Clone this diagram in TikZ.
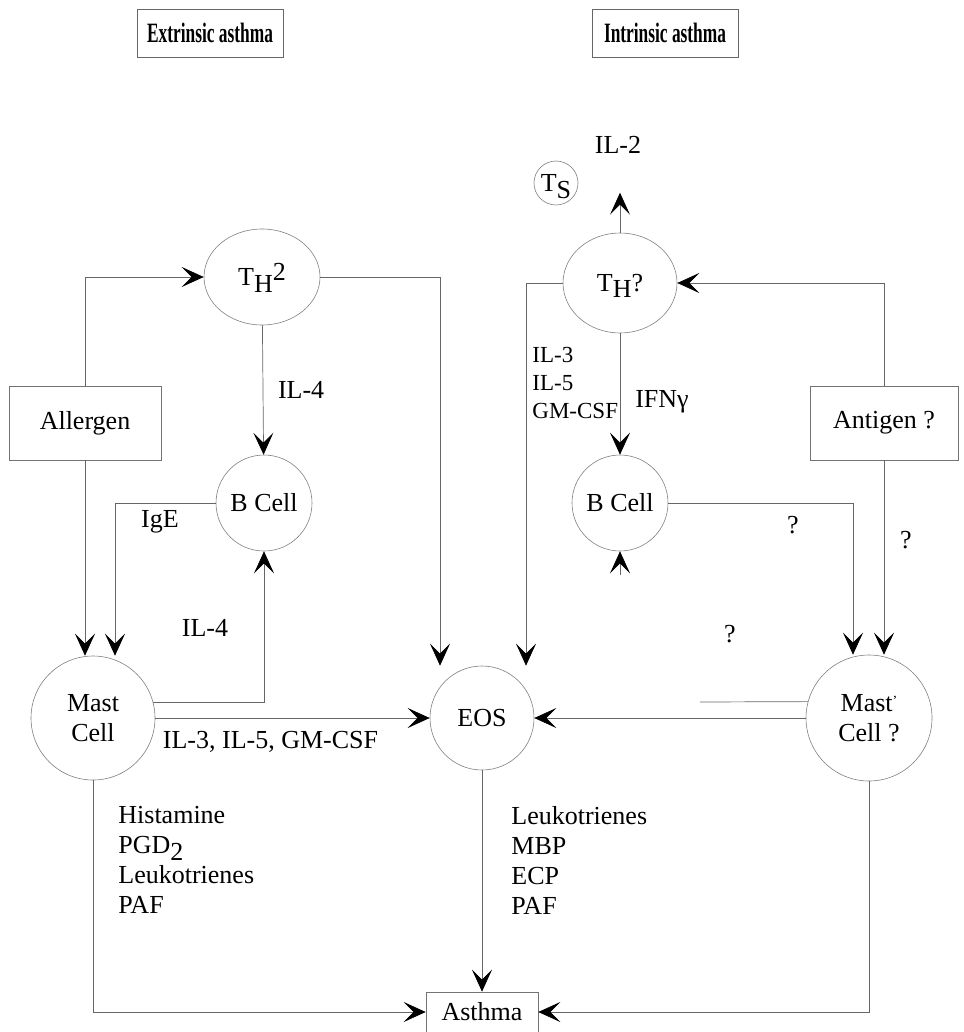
\documentclass[tikz,border=0pt]{standalone}
\usepackage{fontspec}
\setmainfont{Liberation Serif}
\usetikzlibrary{arrows.meta,shapes,positioning,calc}

\newcommand{\lo}[1]{\smash{\raisebox{-.55ex}{#1}}}
\newcommand{\hi}[1]{\smash{\raisebox{.45ex}{#1}}}

\begin{document}
\begin{tikzpicture}[x=0.5pt, y=-0.5pt,
    font=\fontsize{13}{15}\selectfont,
    cell/.style={circle, draw=black!50, line width=0.3pt, inner sep=0pt, align=center},
    oval/.style={ellipse, draw=black!50, line width=0.3pt, inner sep=0pt, align=center},
    box/.style={rectangle, draw=black!55, line width=0.3pt, align=center},
    title/.style={rectangle, draw=black!60, line width=0.4pt, minimum width=73pt, minimum height=24pt,
        font=\bfseries\fontsize{14}{16}\selectfont},
    link/.style={draw=black!60, line width=0.35pt},
    arr/.style={link, -{Stealth[length=11pt, width=10pt, inset=5pt, black]}},
    lbl/.style={inner sep=0pt, align=left}]
    \useasboundingbox (0,0) rectangle (963,1032);

    \node[title] (ext) at (210,33) {\scalebox{0.62}[1]{Extrinsic asthma}};
    \node[title] (int) at (665,33) {\scalebox{0.62}[1]{Intrinsic asthma}};

    \node[oval, minimum width=58pt, minimum height=48pt] (th2) at (262,277) {T\lo{H}\hi{2}};
    \node[oval, minimum width=57pt, minimum height=50pt] (thq) at (620,283) {T\lo{H}?};
    \node[cell, minimum size=22pt] (ts) at (556,183) {T\lo{S}};
    \node[lbl] (il2) at (618,145) {IL-2};

    \node[box, minimum width=76pt, minimum height=37pt] (allergen) at (85,423) {Allergen};
    \node[box, minimum width=74pt, minimum height=37pt] (antigen) at (884,423) {Antigen ?};

    \node[cell, minimum size=48pt] (bL) at (264,503) {B Cell};
    \node[cell, minimum size=48pt] (bR) at (620,503) {B Cell};

    \node[cell, minimum size=62pt] (mastL) at (93,718) {Mast\\Cell};
    \node[cell, minimum size=63pt] (mastR) at (869,718) {Mast\hi{\fontsize{7}{7}\selectfont'}\\Cell ?};
    \node[cell, minimum size=52pt] (eos) at (482,718) {EOS};

    \node[box, minimum width=56pt, minimum height=20pt] (asthma) at (482,1012) {Asthma};

    \draw[arr] (allergen.north) |- (th2.west);
    \draw[arr] (allergen.south) -- (allergen.south |- mastL.north);
    \draw[arr] (th2.east) -| ([xshift=-21pt]eos.north);
    \draw[arr] (th2) -- (bL) node[midway, right=4pt] {IL-4};
    \draw[arr] (bL.west) -| ([xshift=11pt]mastL.north);
    \draw[arr] (mastL.15) -| (bL.south);
    \draw[arr] (mastL) -- (eos) node[pos=0.42, below=3pt] {IL-3, IL-5, GM-CSF};

    \draw[arr] (antigen.north) |- (thq.east);
    \draw[arr] (antigen.south) -- (antigen.south |- mastR.north);
    \draw[arr] (thq.west) -| ([xshift=22pt]eos.north);
    \draw[arr] (thq.north) -- ([yshift=20pt]thq.north);
    \draw[arr] (thq) -- (bR);
    \draw[arr] (bR.east) -| ([xshift=-8pt]mastR.north);
    \draw[arr] ([yshift=-12pt]bR.south) -- (bR.south);
    \coordinate (qend) at (700,702);
    \draw[link] (mastR.165) -- (qend);
    \draw[arr] (mastR) -- (eos);

    \draw[arr] (eos) -- (asthma);
    \draw[arr] (mastL.south) |- (asthma.west);
    \draw[arr] (mastR.south) |- (asthma.east);

    \node[lbl] (ige) at (160,522) {IgE};
    \node[lbl] (il4b) at (205,628) {IL-4};
    \node[lbl, anchor=west, font=\fontsize{11.5}{14}\selectfont] (eosin) at (532,383) {IL-3\\IL-5\\GM-CSF};
    \node[lbl] (ifn) at (662,402) {IFNγ};
    \node[lbl] (q1) at (793,525) {?};
    \node[lbl] (q2) at (906,540) {?};
    \node[lbl] (q3) at (730,634) {?};
    \node[lbl, anchor=west] (mastmed) at (118,860) {Histamine\\PGD\lo{2}\\Leukotrienes\\PAF};
    \node[lbl, anchor=west] (eosmed) at (511,860) {Leukotrienes\\MBP\\ECP\\PAF};
\end{tikzpicture}
\end{document}
